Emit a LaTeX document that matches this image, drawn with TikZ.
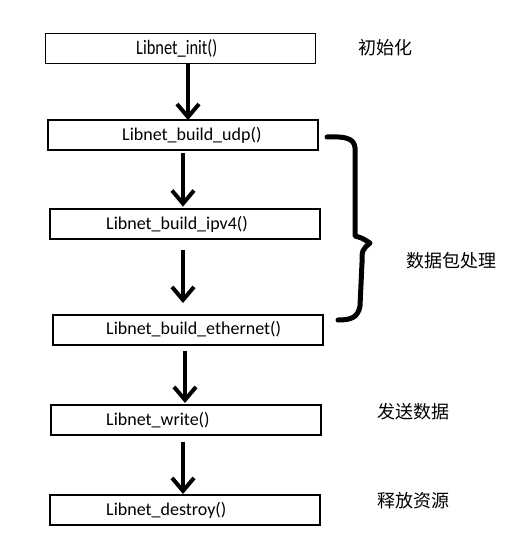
\documentclass[tikz,border=0pt]{standalone}
\usepackage{fontspec}
\setmainfont{Carlito}
\newfontfamily\cjk{Noto Sans CJK SC}
\usetikzlibrary{arrows.meta}
\tikzset{
	fnbox/.style={draw, line width=1.2pt, minimum width=270pt, minimum height=30pt, inner sep=0pt},
	fntext/.style={anchor=west, inner sep=0pt, font=\fontsize{18}{21}\selectfont},
	notetext/.style={anchor=west, inner sep=0pt, font=\cjk\fontsize{18}{21}\selectfont},
	flow/.style={line width=4pt, -{Straight Barb[length=13pt, width=22pt, line width=4pt]}}
}

\begin{document}
\begin{tikzpicture}[x=1pt, y=-1pt]
	\useasboundingbox (0,0) rectangle (520,547);
	% boxes
	\node[fnbox] (init) at (180.5,48.5) {};
	\node[fnbox] (udp) at (183,135) {};
	\node[fnbox] (ipv4) at (185,224) {};
	\node[fnbox] (eth) at (188,330) {};
	\node[fnbox] (write) at (186,420) {};
	\node[fnbox] (destroy) at (185,510) {};
	% function names
	\node[fntext, font=\fontsize{20.5}{24}\selectfont] (init-t) at (136,48) {\scalebox{0.8}[1]{Libnet\_init()}};
	\node[fntext] (udp-t) at (122,135) {Libnet\_build\_udp()};
	\node[fntext] (ipv4-t) at (106,224) {Libnet\_build\_ipv4()};
	\node[fntext] (eth-t) at (106,329) {Libnet\_build\_ethernet()};
	\node[fntext] (write-t) at (106,420) {Libnet\_write()};
	\node[fntext] (destroy-t) at (106,510) {Libnet\_destroy()};
	% arrows
	\draw[flow] (init.south -| 188,0) -- ++(0,56);
	\draw[flow] (udp.south -| 183,0) ++(0,2) -- ++(0,54);
	\draw[flow] (183,250) -- (183,303);
	\draw[flow] (eth.south -| 185,0) ++(0,5) -- (185,403);
	\draw[flow] (write.south -| 183,0) ++(0,6) -- (183,494);
	% brace
	\draw[line width=5pt, line cap=round, line join=round]
		(327,137) .. controls (350,136) and (356,140) .. (355,152) -- (355,236)
		.. controls (362,238) .. (370,243) .. controls (362,250) .. (362,263)
		-- (360,306) .. controls (358,318) and (350,320) .. (338,320);
	% notes
	\node[notetext] (init-n) at (358,48) {初始化};
	\node[notetext] (pkt-n) at (406,261) {数据包处理};
	\node[notetext] (write-n) at (377,412) {发送数据};
	\node[notetext] (destroy-n) at (377,501) {释放资源};
\end{tikzpicture}
\end{document}
